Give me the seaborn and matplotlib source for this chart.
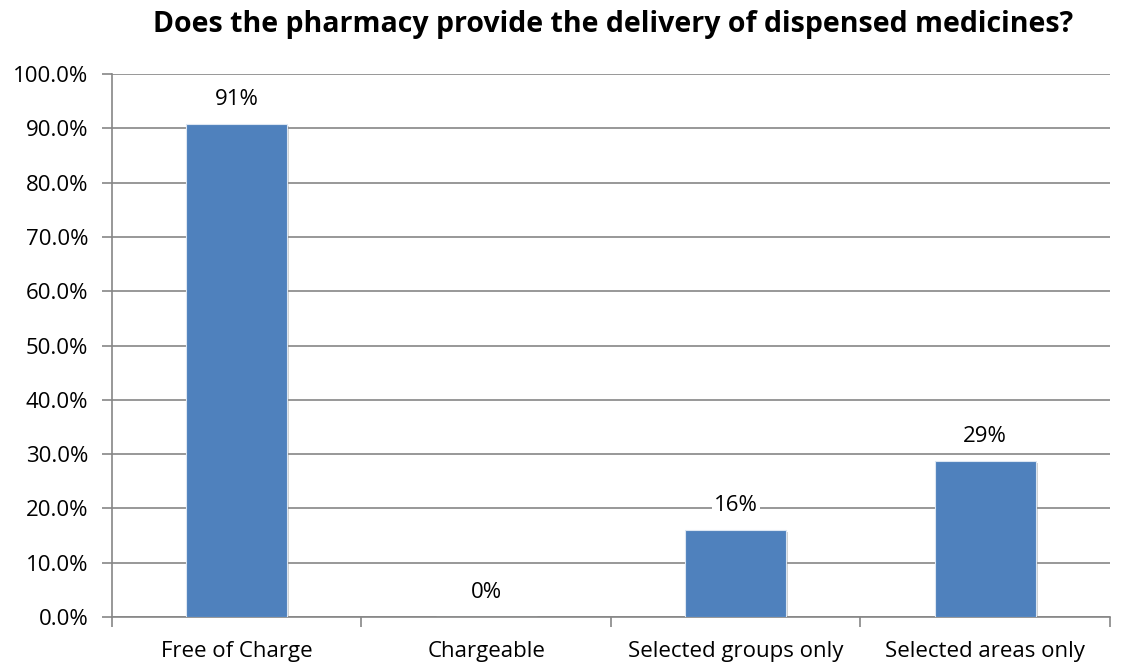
import pandas as pd
import numpy as np
import matplotlib
matplotlib.use("Agg")
import matplotlib.pyplot as plt
import matplotlib.patheffects as pe
import seaborn as sns

# Data
categories = ["Free of Charge", "Chargeable", "Selected groups only", "Selected areas only"]
shares = [0.908, 0.0, 0.16, 0.287]
labels = ["91%", "0%", "16%", "29%"]

df = pd.DataFrame({"category": categories, "share": shares})

sns.set_theme(style="white")
plt.rcParams["font.family"] = ["Open Sans", "DejaVu Sans"]

grid_color = "#868686"
fs = 16

fig = plt.figure(figsize=(11.3, 6.68), dpi=100)
ax = fig.add_axes([0.0991, 0.0763, 0.8832, 0.8127])

sns.barplot(data=df, x="category", y="share", color="#4F81BD", saturation=1,
            width=0.405, edgecolor="#dce6f2", linewidth=0.8, ax=ax, zorder=3)

for bar in ax.patches:
    bar.set_path_effects([
        pe.SimplePatchShadow(offset=(1.5, -1.5), shadow_rgbFace="#7f7f7f", alpha=0.35),
        pe.Normal(),
    ])

ax.bar_label(ax.containers[0], labels=labels, padding=10, fontsize=fs,
             color="black",
             bbox=dict(facecolor="white", edgecolor="none", pad=1.5))

# axes range and grid
ax.set_ylim(0, 1.0)
ax.set_xlim(-0.5, len(categories) - 0.5)
ax.set_yticks(np.arange(0, 1.01, 0.1))
ax.set_yticklabels([f"{v * 100:.1f}%" for v in np.arange(0, 1.01, 0.1)], fontsize=fs)
ax.yaxis.grid(True, color=grid_color, linewidth=1.2, zorder=0)
ax.set_axisbelow(True)

# category ticks at the boundaries, labels centred
ax.set_xticks(np.arange(len(categories)))
ax.set_xticklabels(categories, fontsize=fs)
ax.set_xticks(np.arange(-0.5, len(categories), 1.0), minor=True)
ax.tick_params(axis="x", which="major", length=0, pad=17, labelcolor="black")
ax.tick_params(axis="x", which="minor", length=7, width=1.2, color=grid_color,
               direction="out", bottom=True)
ax.tick_params(axis="y", length=7, width=1.2, color=grid_color, direction="out",
               left=True, pad=10, labelcolor="black")

for side in ["top", "right"]:
    ax.spines[side].set_visible(False)
for side in ["left", "bottom"]:
    ax.spines[side].set_color(grid_color)
    ax.spines[side].set_linewidth(1.2)

ax.set_xlabel("")
ax.set_ylabel("")

fig.suptitle("Does the pharmacy provide the delivery of dispensed medicines?",
             fontsize=20.5, fontweight="bold", x=0.5425, y=0.985, va="top",
             color="black")

fig.savefig("out.png", dpi=100, facecolor="white")
